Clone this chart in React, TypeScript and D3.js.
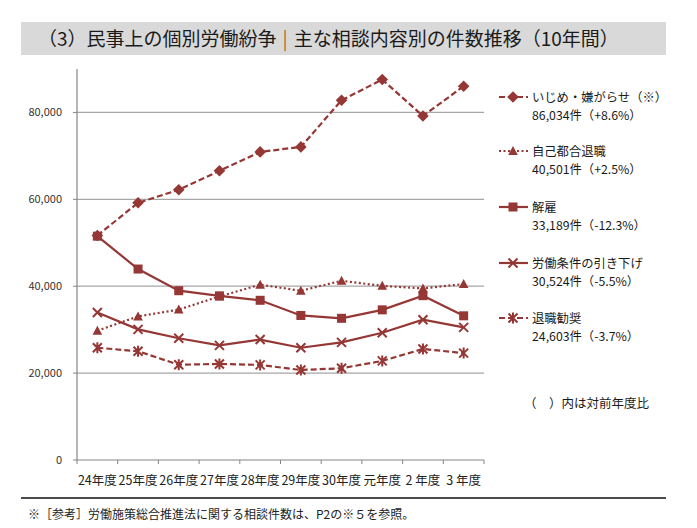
import * as d3 from 'd3'

const years = ['24年度', '25年度', '26年度', '27年度', '28年度', '29年度', '30年度', '元年度', '2 年度', '3 年度']

const ijime = [51670, 59197, 62191, 66566, 70917, 72067, 82797, 87570, 79190, 86034]
const jikoTaishoku = [29763, 33049, 34626, 37648, 40364, 38954, 41258, 40081, 39498, 40501]
const kaiko = [51515, 43956, 38966, 37787, 36760, 33269, 32614, 34561, 37826, 33189]
const hikisage = [33955, 30067, 28015, 26392, 27723, 25841, 27082, 29286, 32295, 30524]
const kansho = [25838, 25041, 21928, 22110, 21891, 20714, 21125, 22808, 25560, 24603]

const yTicks = [0, 20000, 40000, 60000, 80000]

const seriesNames = ['いじめ・嫌がらせ（※）', '自己都合退職', '解雇', '労働条件の引き下げ', '退職勧奨']
const seriesNotes = ['86,034件（+8.6%）', '40,501件（+2.5%）', '33,189件（-12.3%）', '30,524件（-5.5%）', '24,603件（-3.7%）']

const RED = '#953735'
const FONT = '"Noto Sans CJK JP", "Noto Sans", sans-serif'

type Marker = 'diamond' | 'triangle' | 'square' | 'cross' | 'star'

const series: { values: number[]; dash: string | null; marker: Marker }[] = [
  { values: ijime, dash: '6,3', marker: 'diamond' },
  { values: jikoTaishoku, dash: '2,2.5', marker: 'triangle' },
  { values: kaiko, dash: null, marker: 'square' },
  { values: hikisage, dash: null, marker: 'cross' },
  { values: kansho, dash: '6,3', marker: 'star' },
]

function MarkerShape({ type, x, y }: { type: Marker; x: number; y: number }) {
  if (type === 'diamond') {
    const r = 5.8
    return <path d={`M${x},${y - r}L${x + r},${y}L${x},${y + r}L${x - r},${y}Z`} fill={RED} />
  }
  if (type === 'square') {
    return <rect x={x - 4.5} y={y - 4.5} width={9} height={9} fill={RED} />
  }
  if (type === 'triangle') {
    return <path d={`M${x},${y - 5}L${x + 4.8},${y + 4}L${x - 4.8},${y + 4}Z`} fill={RED} />
  }
  if (type === 'cross') {
    const r = 4.5
    return (
      <path d={`M${x - r},${y - r}L${x + r},${y + r}M${x - r},${y + r}L${x + r},${y - r}`} stroke={RED} strokeWidth={2} fill="none" />
    )
  }
  const r = 4.5
  return (
    <path
      d={`M${x - r},${y - r}L${x + r},${y + r}M${x - r},${y + r}L${x + r},${y - r}M${x},${y - 5.5}L${x},${y + 5.5}`}
      stroke={RED}
      strokeWidth={2}
      fill="none"
    />
  )
}

export default function App() {
  const width = 697
  const height = 528
  const left = 77
  const right = 484
  const top = 69
  const bottom = 460

  const x = d3.scaleBand().domain(years).range([left, right]).padding(0)
  const y = d3.scaleLinear().domain([0, 90000]).range([bottom, top])
  const cx = (d: string) => (x(d) ?? 0) + x.bandwidth() / 2

  const line = d3
    .line<number>()
    .x((_, i) => cx(years[i]))
    .y((d) => y(d))

  const legendY = [97, 151, 207, 263, 318]

  return (
    <svg width={width} height={height} style={{ position: 'absolute', left: 0, top: 0, fontFamily: FONT }}>
      <rect width={width} height={height} fill="#fff" />

      {/* title bar */}
      <rect x={21} y={22} width={645} height={33} fill="#d9d9d9" />
      <text x={38} y={45.5} fontSize={19} fill="#1a1a1a">
        <tspan>（3）民事上の個別労働紛争</tspan>
        <tspan fill="#b8652a" dx={6}>|</tspan>
        <tspan dx={6}>主な相談内容別の件数推移（10年間）</tspan>
      </text>

      {/* grid */}
      {yTicks.slice(1).map((t) => (
        <line key={t} x1={left} x2={right} y1={y(t)} y2={y(t)} stroke="#a6a6a6" strokeWidth={1.2} />
      ))}
      <line x1={left} x2={left} y1={top} y2={bottom} stroke="#868686" strokeWidth={1.2} />
      <line x1={left} x2={right} y1={bottom} y2={bottom} stroke="#868686" strokeWidth={1.2} />
      {yTicks.map((t) => (
        <g key={t}>
          <line x1={left - 4} x2={left} y1={y(t)} y2={y(t)} stroke="#868686" />
          <text x={62} y={y(t)} dy="0.35em" textAnchor="end" fontSize={11} fill="#333">
            {d3.format(',')(t)}
          </text>
        </g>
      ))}
      {[...years.map((d) => x(d) ?? 0), right].map((px, i) => (
        <line key={i} x1={px} x2={px} y1={bottom} y2={bottom + 4} stroke="#868686" />
      ))}
      {years.map((d) => (
        <text key={d} x={cx(d)} y={485} textAnchor="middle" fontSize={12.5} fill="#222">
          {d}
        </text>
      ))}

      {/* series */}
      {series.map((s, i) => (
        <g key={i}>
          <path d={line(s.values) ?? ''} fill="none" stroke={RED} strokeWidth={2.2} strokeDasharray={s.dash ?? undefined} />
          {s.values.map((v, j) => (
            <MarkerShape key={j} type={s.marker} x={cx(years[j])} y={y(v)} />
          ))}
        </g>
      ))}

      {/* legend */}
      {series.map((s, i) => (
        <g key={i}>
          <line x1={499} x2={528} y1={legendY[i]} y2={legendY[i]} stroke={RED} strokeWidth={2.2} strokeDasharray={s.dash ?? undefined} />
          <MarkerShape type={s.marker} x={513} y={legendY[i]} />
          <text x={532} y={legendY[i] + 4.5} fontSize={12.3} fill="#1a1a1a">
            {seriesNames[i]}
          </text>
          <text x={532} y={legendY[i] + 22.5} fontSize={12.3} fill="#1a1a1a">
            {seriesNotes[i]}
          </text>
        </g>
      ))}
      <text x={524} y={408} fontSize={12.5} fill="#1a1a1a">
        （　）内は対前年度比
      </text>

      {/* footer */}
      <line x1={21} x2={666} y1={498} y2={498} stroke="#111" strokeWidth={1.5} />
      <text x={28} y={519} fontSize={12} fill="#222">
        ※［参考］労働施策総合推進法に関する相談件数は、P2の※５を参照。
      </text>
    </svg>
  )
}
